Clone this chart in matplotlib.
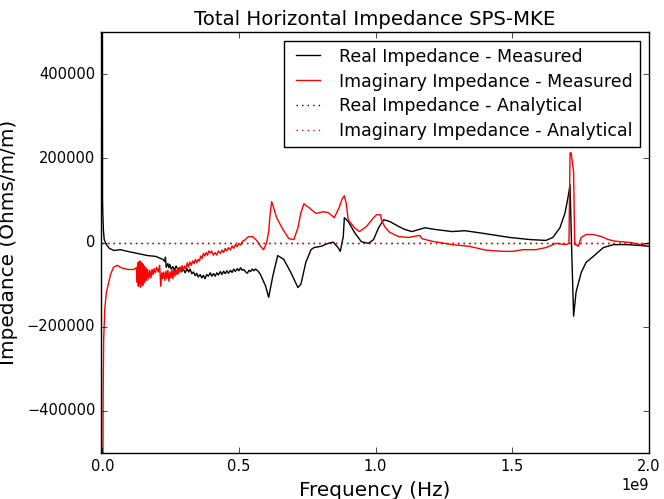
import matplotlib
matplotlib.use("Agg")
import matplotlib.pyplot as plt
import numpy as np

plt.style.use("classic")

# Real impedance - measured (frequency in GHz, impedance in Ohms/m/m)
real_f = [0.0, 0.001, 0.002, 0.004, 0.007, 0.015, 0.026, 0.043, 0.066, 0.092,
          0.129, 0.166, 0.196, 0.221, 0.229, 0.231,
          0.234, 0.240, 0.244, 0.247, 0.252, 0.258, 0.264, 0.270, 0.277, 0.284,
          0.290, 0.297, 0.303, 0.310, 0.316, 0.321, 0.328, 0.334, 0.340, 0.346,
          0.351, 0.358, 0.364, 0.370, 0.376, 0.382, 0.388, 0.395, 0.401, 0.407,
          0.413, 0.419, 0.425, 0.432, 0.438, 0.444, 0.450, 0.456, 0.462, 0.469,
          0.475, 0.481, 0.487, 0.494, 0.500, 0.506, 0.512, 0.518, 0.525, 0.531,
          0.537, 0.543, 0.549, 0.555, 0.561, 0.570, 0.579,
          0.598, 0.609, 0.624, 0.642, 0.664, 0.690, 0.716, 0.727,
          0.745, 0.764, 0.775, 0.801, 0.827, 0.845, 0.863, 0.871, 0.882, 0.886,
          0.900, 0.923, 0.948, 0.974, 0.993, 1.011, 1.030, 1.052, 1.085, 1.107,
          1.133, 1.181, 1.218, 1.280, 1.328, 1.402, 1.491, 1.565, 1.624, 1.649,
          1.675, 1.694, 1.705, 1.712, 1.718, 1.725, 1.734, 1.753, 1.771, 1.797,
          1.834, 1.871, 1.919, 1.970, 2.0]
real_z = [1500000, 100000, 66000, 30000, 7000, -5000, -14000, -19000, -17000, -21000,
          -26000, -31000, -33000, -40000, -45000, -35000,
          -59000, -50000, -60000, -52000, -63000, -57000, -66000, -56000, -64000, -60000,
          -70000, -63000, -72000, -62000, -70000, -63000, -74000, -70000, -79000, -73000,
          -82000, -76000, -84000, -78000, -86000, -76000, -80000, -72000, -80000, -74000,
          -80000, -72000, -77000, -69000, -76000, -68000, -74000, -67000, -73000, -66000,
          -71000, -63000, -69000, -62000, -67000, -60000, -66000, -64000, -70000, -73000,
          -66000, -69000, -63000, -67000, -63000, -68000, -76000,
          -104000, -130000, -80000, -31000, -40000, -71000, -107000, -99000,
          -47000, -17000, -12000, -9000, -2000, 1000, -12000, -21000, 14000, 59000,
          50000, 24000, 2000, -2000, 7000, 35000, 54000, 50000, 38000, 31000,
          26000, 35000, 31000, 26000, 28000, 21000, 12000, 7000, 5000, 12000,
          35000, 71000, 109000, 137000, -17000, -175000, -118000, -71000, -47000, -33000,
          -12000, -5000, -5000, -7000, -9000]

# Imaginary impedance - measured
imag_f = [0.001, 0.003, 0.005, 0.009, 0.015, 0.022, 0.030, 0.041, 0.055, 0.066,
          0.092, 0.117, 0.125,
          0.128, 0.130, 0.132, 0.134, 0.136, 0.138, 0.140, 0.142, 0.144, 0.146,
          0.148, 0.150, 0.152, 0.154, 0.157, 0.160, 0.163, 0.166, 0.170, 0.174,
          0.178, 0.182, 0.186, 0.190, 0.194, 0.199,
          0.205, 0.210, 0.214, 0.218, 0.221, 0.225, 0.229, 0.233, 0.236, 0.240,
          0.244, 0.248, 0.251, 0.255, 0.258, 0.262, 0.266, 0.269, 0.273, 0.277,
          0.280, 0.285, 0.289, 0.292, 0.297, 0.301, 0.306, 0.311, 0.316, 0.321,
          0.326, 0.331, 0.336, 0.341, 0.346, 0.351, 0.356, 0.360, 0.365, 0.370,
          0.375, 0.380, 0.385, 0.390, 0.395, 0.400, 0.406, 0.413, 0.419, 0.425,
          0.432, 0.438, 0.444, 0.450, 0.456, 0.462, 0.469, 0.475, 0.481, 0.487,
          0.494, 0.500, 0.506, 0.513, 0.520,
          0.535, 0.550, 0.565, 0.579, 0.590, 0.601, 0.609, 0.614,
          0.620, 0.627, 0.638, 0.661, 0.683, 0.701, 0.716, 0.727, 0.738, 0.756,
          0.782, 0.808, 0.827, 0.849, 0.867, 0.878, 0.886, 0.893, 0.900, 0.923,
          0.941, 0.967, 0.993, 1.004, 1.018, 1.022, 1.033, 1.052, 1.085, 1.122,
          1.162, 1.170, 1.207, 1.280, 1.343, 1.402, 1.465, 1.502, 1.539, 1.587,
          1.624, 1.661, 1.697, 1.708, 1.712, 1.716, 1.725, 1.729, 1.734, 1.742,
          1.753, 1.771, 1.797, 1.827, 1.852, 1.878, 1.934, 1.970, 2.0]
imag_z = [-1000000, -372000, -230000, -159000, -118000, -99000, -76000, -59000, -54000, -59000,
          -64000, -64000, -59000,
          -95000, -48000, -104000, -46000, -100000, -44000, -106000, -47000, -98000, -50000,
          -102000, -52000, -96000, -56000, -92000, -60000, -90000, -64000, -86000, -66000,
          -84000, -64000, -76000, -62000, -72000, -59000,
          -70000, -54000, -104000, -72000, -86000, -70000, -90000, -68000, -86000, -66000,
          -92000, -70000, -84000, -64000, -86000, -66000, -80000, -64000, -76000, -60000,
          -74000, -58000, -68000, -55000, -66000, -56000, -62000, -48000, -58000, -46000,
          -54000, -44000, -50000, -40000, -48000, -40000, -44000, -32000, -38000, -26000,
          -32000, -24000, -30000, -20000, -25000, -20000, -30000, -24000, -30000, -20000,
          -26000, -18000, -24000, -14000, -20000, -12000, -18000, -8000, -14000, -5000,
          -10000, -2000, -6000, 3000, 5000,
          14000, 14000, 5000, -9000, -17000, -2000, 26000, 66000,
          97000, 83000, 59000, 31000, 9000, 7000, 35000, 71000, 92000, 83000,
          69000, 73000, 71000, 59000, 83000, 104000, 111000, 92000, 54000, 35000,
          26000, 38000, 59000, 66000, 66000, 54000, 38000, 24000, 14000, 12000,
          17000, 9000, 3000, -5000, -9000, -18000, -21000, -21000, -17000, -17000,
          -12000, -2000, -5000, -2000, 213000, 213000, 168000, -5000, -5000, -9000,
          12000, 19000, 19000, 14000, 7000, 3000, 0, -5000, -2000]

# Analytical impedances
ana_f = [0.0, 2.0]
ana_real = [0.0, 0.0]
ana_imag = [0.0, 0.0]

fig = plt.figure(figsize=(6.64, 4.99), dpi=100, facecolor="white")
ax = fig.add_axes([0.152, 0.092, 0.825, 0.844])

ax.plot(np.array(real_f) * 1e9, real_z, color="black", lw=1.0, label="Real Impedance - Measured")
ax.plot(np.array(imag_f) * 1e9, imag_z, color="red", lw=1.0, label="Imaginary Impedance - Measured")
ax.plot(np.array(ana_f) * 1e9, ana_real, color="black", ls=":", lw=1.0, label="Real Impedance - Analytical")
ax.plot(np.array(ana_f) * 1e9, ana_imag, color="red", ls=":", lw=1.0, label="Imaginary Impedance - Analytical")

ax.set_xlim(-0.005e9, 2.0e9)
ax.set_ylim(-500000, 500000)
ax.set_xticks([0, 0.5e9, 1.0e9, 1.5e9, 2.0e9])
ax.set_yticks([-400000, -200000, 0, 200000, 400000])
ax.tick_params(labelsize=10.5)
ax.xaxis.get_offset_text().set_fontsize(10.5)

ax.set_title("Total Horizontal Impedance SPS-MKE", fontsize=14.2)
ax.set_xlabel("Frequency (Hz)", fontsize=14.4)
ax.set_ylabel("Impedance (Ohms/m/m)", fontsize=14.4)
ax.yaxis.set_label_coords(-0.151, 0.5)

leg = ax.legend(loc="upper right", fontsize=12.5, numpoints=2, labelspacing=0.4)

fig.savefig("out.png", dpi=100, facecolor="white")
